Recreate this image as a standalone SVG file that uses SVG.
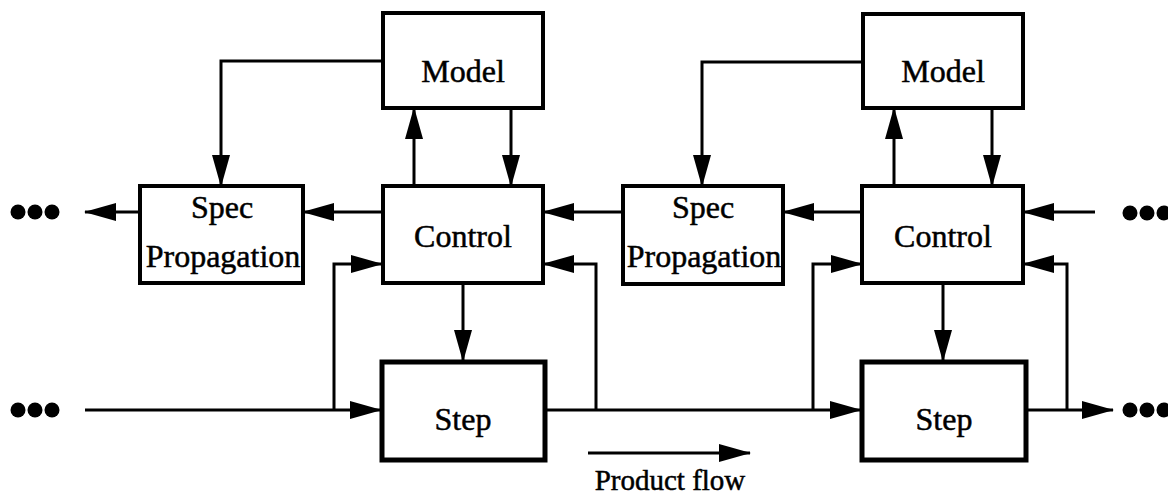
<svg xmlns="http://www.w3.org/2000/svg" width="1168" height="498" viewBox="0 0 1168 498">
  <style>
    .box { fill: #fff; stroke: #000; stroke-width: 4; }
    .step { fill: #fff; stroke: #000; stroke-width: 5; }
    .lbl { font-family: "Liberation Serif", "Times New Roman", serif; font-size: 32px; fill: #000; stroke: #000; stroke-width: 0.5; text-anchor: middle; }
    .small { font-size: 29px; }
    .wire { fill: none; stroke: #000; stroke-width: 3; }
    .arr { marker-end: url(#head); }
    .dot { fill: #000; }
  </style>
  <defs>
    <marker id="head" markerUnits="userSpaceOnUse" markerWidth="32" markerHeight="20" refX="31" refY="10" orient="auto">
      <path d="M0,1 L32,10 L0,19 z" fill="#000"/>
    </marker>
  </defs>

  <rect width="1168" height="498" fill="#fff"/>

  <!-- connectors -->
  <g id="connectors">
    <!-- stage 1 -->
    <polyline class="wire arr" points="383,61 221,61 221,186"/>
    <line class="wire arr" x1="414" y1="186" x2="414" y2="108"/>
    <line class="wire arr" x1="511" y1="108" x2="511" y2="186"/>
    <line class="wire arr" x1="383" y1="212" x2="303" y2="212"/>
    <line class="wire arr" x1="140" y1="212" x2="85" y2="212"/>
    <line class="wire arr" x1="463" y1="283" x2="463" y2="361"/>
    <line class="wire arr" x1="85" y1="410" x2="381" y2="410"/>
    <polyline class="wire arr" points="334,410 334,264 382,264"/>
    <polyline class="wire arr" points="596,410 596,264 543,264"/>
    <!-- between stages -->
    <line class="wire arr" x1="623" y1="212" x2="543" y2="212"/>
    <line class="wire arr" x1="545" y1="410" x2="861" y2="410"/>
    <!-- stage 2 -->
    <polyline class="wire arr" points="863,62 702,62 702,186"/>
    <line class="wire arr" x1="894" y1="186" x2="894" y2="108"/>
    <line class="wire arr" x1="992" y1="108" x2="992" y2="186"/>
    <line class="wire arr" x1="862" y1="212" x2="783" y2="212"/>
    <line class="wire arr" x1="1095" y1="212" x2="1023" y2="212"/>
    <line class="wire arr" x1="943" y1="283" x2="943" y2="361"/>
    <polyline class="wire arr" points="813,410 813,264 862,264"/>
    <polyline class="wire arr" points="1067,410 1067,264 1023,264"/>
    <line class="wire arr" x1="1026" y1="410" x2="1113" y2="410"/>
    <!-- direction legend -->
    <line class="wire arr" x1="588" y1="453" x2="750" y2="453"/>
  </g>

  <!-- continuation marks -->
  <g id="more-left-top"><circle class="dot" cx="18" cy="212" r="7.5"/><circle class="dot" cx="35" cy="212" r="7.5"/><circle class="dot" cx="52" cy="212" r="7.5"/></g>
  <g id="more-left-bottom"><circle class="dot" cx="18" cy="410" r="7.5"/><circle class="dot" cx="35" cy="410" r="7.5"/><circle class="dot" cx="52" cy="410" r="7.5"/></g>
  <g id="more-right-top"><circle class="dot" cx="1130" cy="213" r="7.5"/><circle class="dot" cx="1147" cy="213" r="7.5"/><circle class="dot" cx="1164" cy="213" r="7.5"/></g>
  <g id="more-right-bottom"><circle class="dot" cx="1130" cy="410" r="7.5"/><circle class="dot" cx="1147" cy="410" r="7.5"/><circle class="dot" cx="1164" cy="410" r="7.5"/></g>

  <!-- stage 1 nodes -->
  <g id="model1">
    <rect class="box" x="383" y="13" width="160" height="95"/>
    <text class="lbl" x="463" y="82">Model</text>
  </g>
  <g id="control1">
    <rect class="box" x="383" y="186" width="160" height="97"/>
    <text class="lbl" x="463" y="247">Control</text>
  </g>
  <g id="spec1">
    <rect class="box" x="140" y="186" width="163" height="97"/>
    <text class="lbl" x="222" y="218">Spec</text>
    <text class="lbl" x="223" y="267">Propagation</text>
  </g>
  <g id="step1">
    <rect class="step" x="382" y="362" width="163" height="98"/>
    <text class="lbl" x="463" y="430">Step</text>
  </g>

  <!-- stage 2 nodes -->
  <g id="model2">
    <rect class="box" x="863" y="14" width="160" height="94"/>
    <text class="lbl" x="943" y="82">Model</text>
  </g>
  <g id="control2">
    <rect class="box" x="862" y="186" width="161" height="97"/>
    <text class="lbl" x="943" y="247">Control</text>
  </g>
  <g id="spec2">
    <rect class="box" x="623" y="186" width="160" height="98"/>
    <text class="lbl" x="703" y="218">Spec</text>
    <text class="lbl" x="704" y="267">Propagation</text>
  </g>
  <g id="step2">
    <rect class="step" x="862" y="362" width="164" height="98"/>
    <text class="lbl" x="944" y="430">Step</text>
  </g>

  <g id="legend">
    <text class="lbl small" x="670" y="490">Product flow</text>
  </g>
</svg>
